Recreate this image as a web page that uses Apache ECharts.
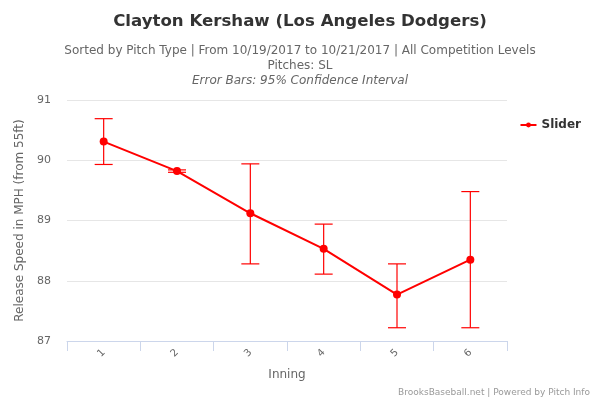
<!DOCTYPE html>
<html>
<head>
<meta charset="UTF-8">
<title>Clayton Kershaw</title>
<style>
  html, body { margin: 0; padding: 0; background: #fff; }
  #main { width: 600px; height: 400px; }
</style>
</head>
<body>
<div id="main"></div>
<script src="https://cdn.jsdelivr.net/npm/echarts@6/dist/echarts.min.js"></script>
<script>
var innings = ['1', '2', '3', '4', '5', '6'];
var speed = [90.31, 89.82, 89.12, 88.53, 87.77, 88.35];
var upper = [90.69, 89.84, 89.94, 88.94, 88.28, 89.48];
var lower = [89.93, 89.80, 88.28, 88.11, 87.22, 87.22];
var yTicks = [87, 88, 89, 90, 91];

var font = '"DejaVu Sans", "Open Sans", sans-serif';
var errData = innings.map(function (c, i) { return [i, lower[i], upper[i]]; });

var chart = echarts.init(document.getElementById('main'));
chart.setOption({
  animation: false,
  textStyle: { fontFamily: font },
  title: [
    { text: 'Clayton Kershaw (Los Angeles Dodgers)', left: 'center', top: 8,
      textStyle: { fontSize: 16.6, fontWeight: 'bold', color: '#333', fontFamily: font } },
    { text: 'Sorted by Pitch Type | From 10/19/2017 to 10/21/2017 | All Competition Levels', left: 'center', top: 40,
      textStyle: { fontSize: 12, fontWeight: 'normal', color: '#666', fontFamily: font } },
    { text: 'Pitches: SL', left: 'center', top: 55,
      textStyle: { fontSize: 12, fontWeight: 'normal', color: '#666', fontFamily: font } },
    { text: 'Error Bars: 95% Confidence Interval', left: 'center', top: 70,
      textStyle: { fontSize: 12, fontWeight: 'normal', fontStyle: 'italic', color: '#666', fontFamily: font } }
  ],
  legend: {
    right: 14, top: 114, orient: 'vertical',
    data: [{ name: 'Slider', itemStyle: { color: '#ff0000' } }],
    itemWidth: 16, itemHeight: 6,
    itemGap: 5,
    textStyle: { fontSize: 12, fontWeight: 'bold', color: '#333', fontFamily: font }
  },
  grid: { left: 67, right: 93, top: 100, bottom: 59 },
  xAxis: {
    type: 'category',
    data: innings,
    boundaryGap: true,
    name: 'Inning',
    nameLocation: 'middle',
    nameGap: 28,
    nameTextStyle: { fontSize: 12, color: '#666', fontFamily: font },
    axisLine: { lineStyle: { color: '#ccd6eb' } },
    axisTick: { show: true, length: 10, lineStyle: { color: '#ccd6eb' } },
    axisLabel: { rotate: 45, fontSize: 10, color: '#666', margin: 10 },
    splitLine: { show: false }
  },
  yAxis: {
    type: 'value',
    min: yTicks[0], max: yTicks[yTicks.length - 1], interval: 1,
    name: 'Release Speed in MPH (from 55ft)',
    nameLocation: 'middle',
    nameGap: 27,
    nameTextStyle: { fontSize: 12, color: '#666', fontFamily: font },
    axisLine: { show: false },
    axisTick: { show: false },
    axisLabel: { fontSize: 11, color: '#666', margin: 16 },
    splitLine: { lineStyle: { color: '#e6e6e6' } }
  },
  series: [
    {
      name: 'Slider',
      type: 'line',
      data: speed,
      symbol: 'circle',
      symbolSize: 8,
      lineStyle: { color: '#ff0000', width: 2 },
      itemStyle: { color: '#ff0000' },
      z: 3
    },
    {
      name: 'err',
      type: 'custom',
      data: errData,
      z: 2,
      renderItem: function (params, api) {
        var x = api.value(0);
        var lo = api.coord([x, api.value(1)]);
        var hi = api.coord([x, api.value(2)]);
        var hw = 9;
        var st = { stroke: '#ff0000', lineWidth: 1.2 };
        return {
          type: 'group',
          children: [
            { type: 'line', shape: { x1: hi[0], y1: hi[1], x2: lo[0], y2: lo[1] }, style: st },
            { type: 'line', shape: { x1: hi[0] - hw, y1: hi[1], x2: hi[0] + hw, y2: hi[1] }, style: st },
            { type: 'line', shape: { x1: lo[0] - hw, y1: lo[1], x2: lo[0] + hw, y2: lo[1] }, style: st }
          ]
        };
      }
    }
  ],
  graphic: [
    { type: 'text', right: 10, bottom: 3,
      style: { text: 'BrooksBaseball.net | Powered by Pitch Info', fontSize: 9, fill: '#999', fontFamily: font } }
  ]
});
</script>
</body>
</html>
